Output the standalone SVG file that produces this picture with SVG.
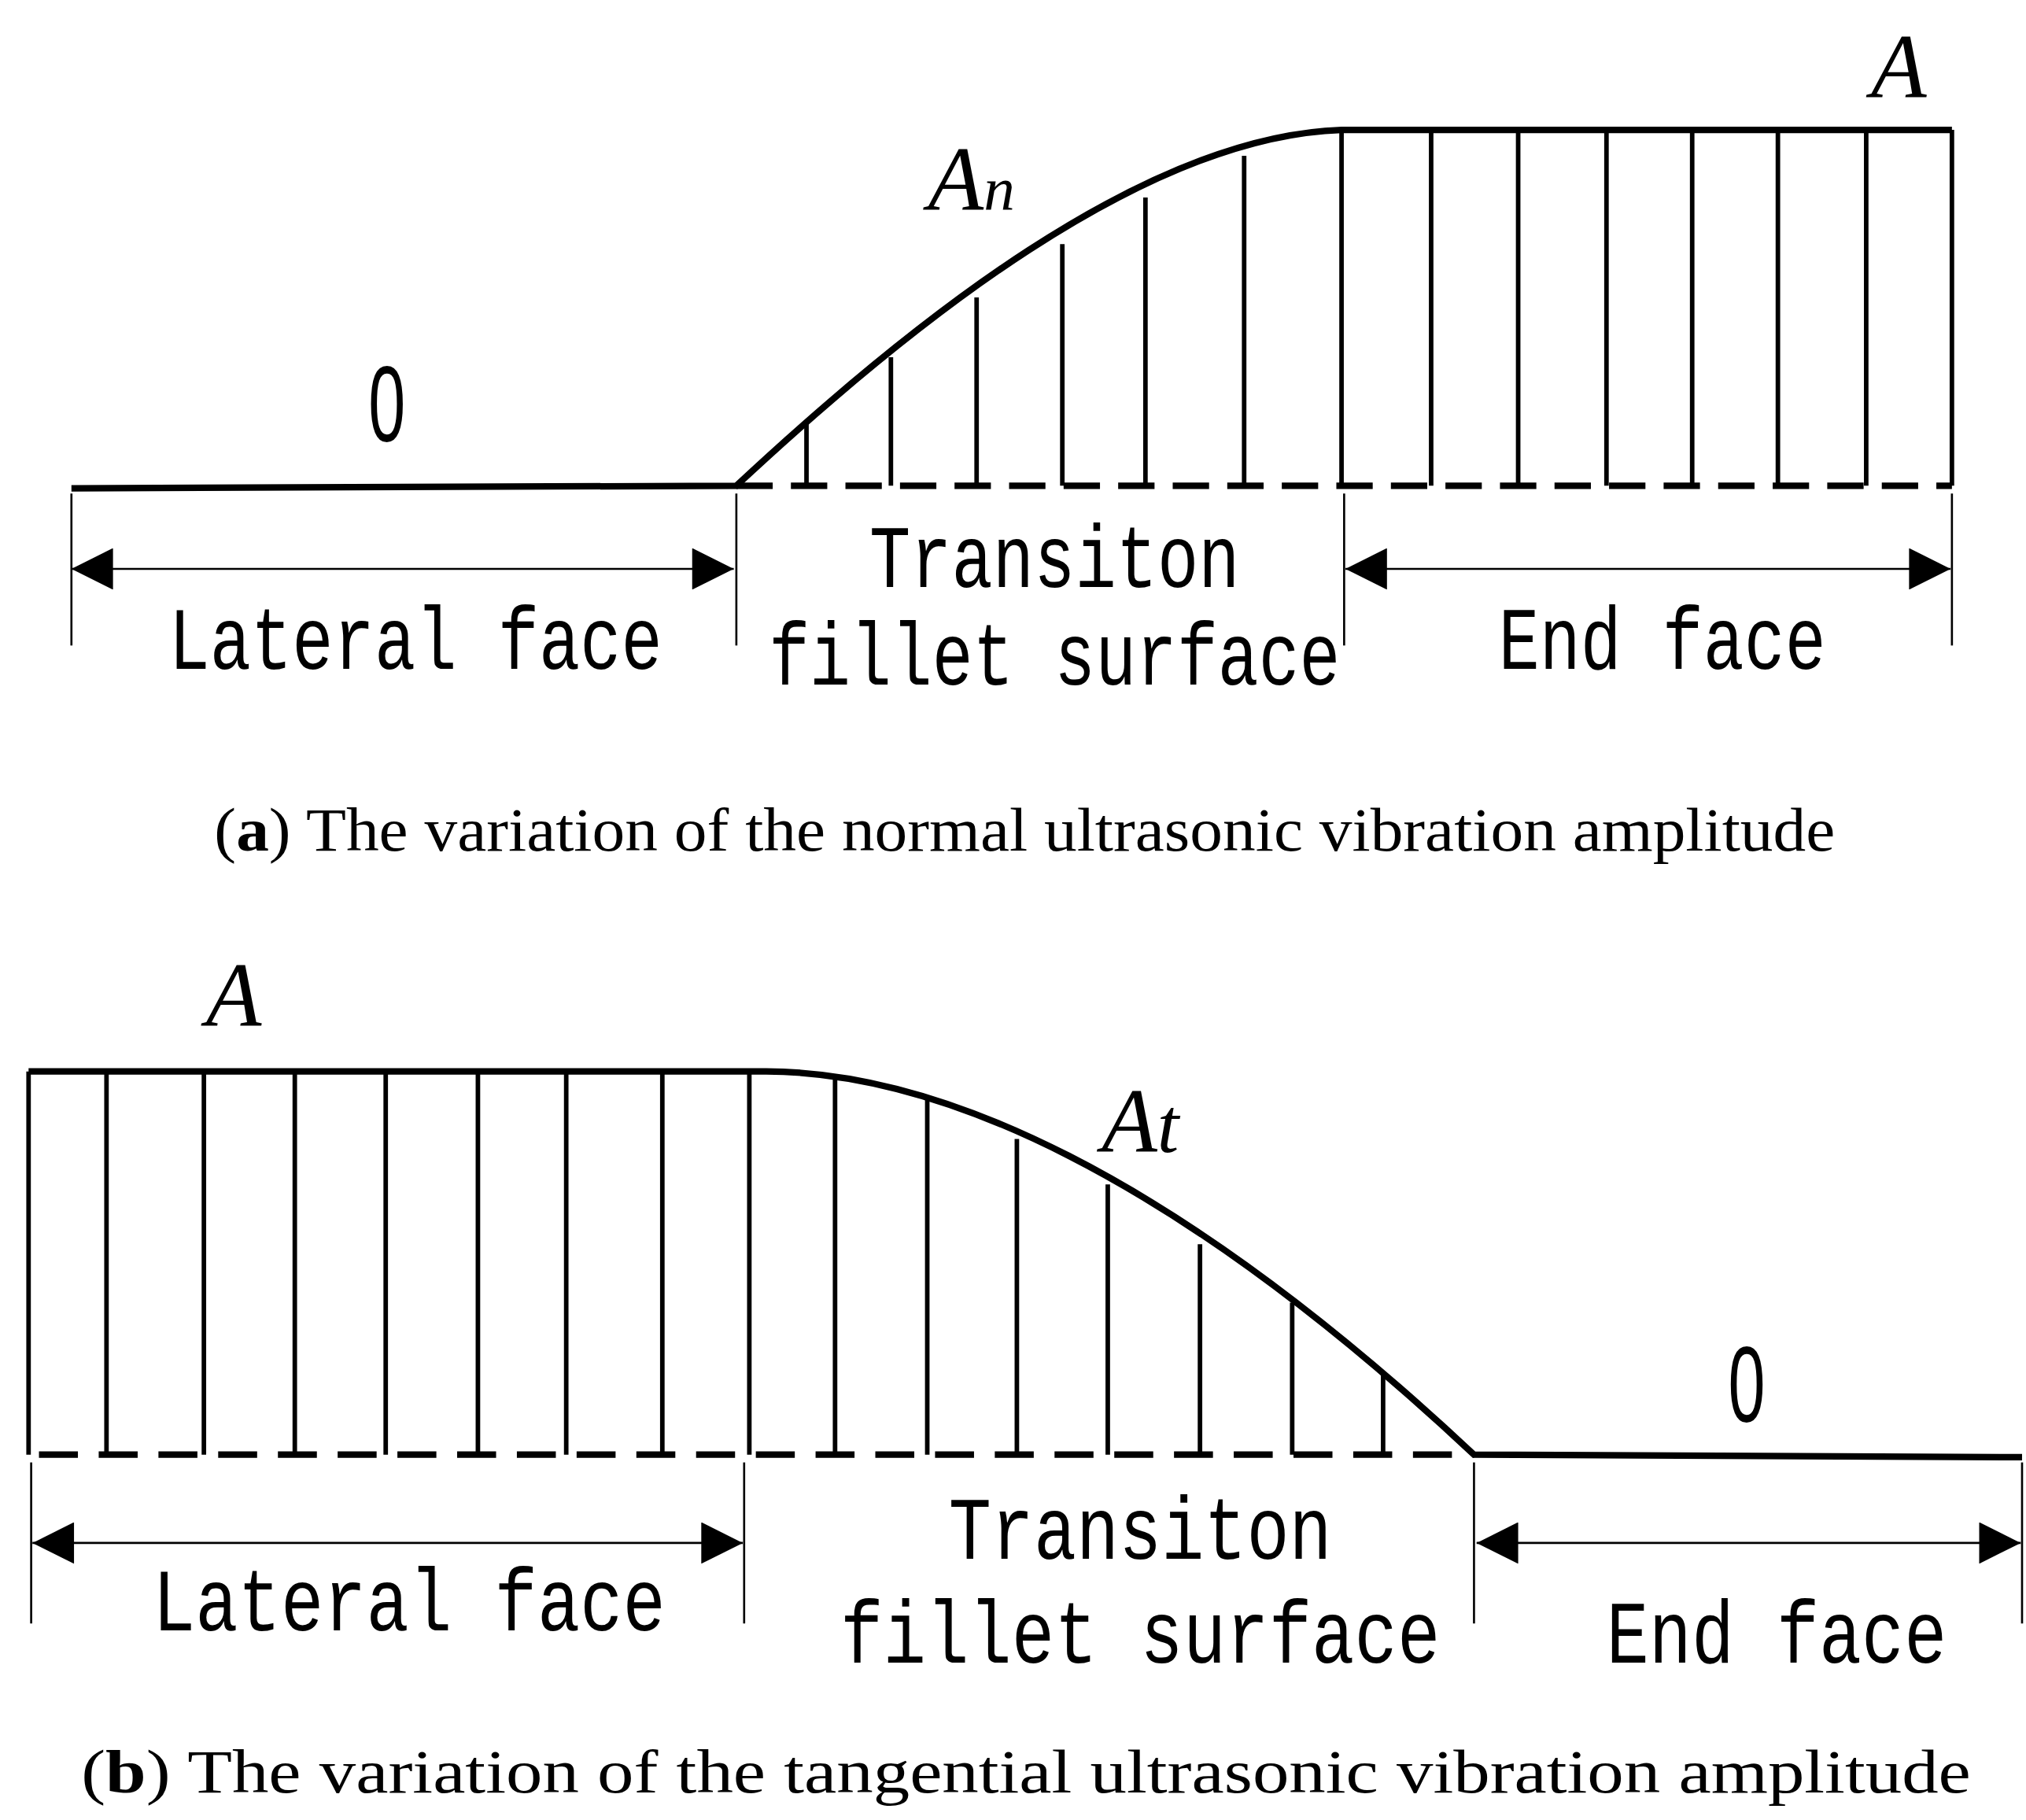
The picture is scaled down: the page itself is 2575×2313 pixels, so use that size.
<svg xmlns="http://www.w3.org/2000/svg" width="2575" height="2313" viewBox="0 0 2575 2313">
<style>
.thick{fill:none;stroke:#000;stroke-width:5}
.vert{stroke:#000;stroke-width:3.5}
.dim{stroke:#000;stroke-width:1.6;fill:none}
.dash{stroke:#000;stroke-width:5;stroke-dasharray:28 14}
.lbl{font-family:"Liberation Mono",monospace;font-size:68px;fill:#000}
.sym{font-family:"Liberation Serif",serif;font-style:italic;font-size:70px;fill:#000}
.zero{font-family:"Liberation Sans",sans-serif;font-size:64px;fill:#000}
.cap{font-family:"Liberation Serif",serif;font-size:47px;fill:#000}
</style>
<defs>
<marker id="ah" viewBox="0 0 10 10" refX="10" refY="5" markerWidth="46" markerHeight="32" markerUnits="userSpaceOnUse" orient="auto-start-reverse"><path d="M0,0L10,5L0,10Z" fill="#000"/></marker>
</defs>
<rect width="2575" height="2313" fill="#fff"/>
<g transform="scale(1.6506)">
<g id="panel-a">
<path class="thick" d="M55,376 L567,374 C700,250 880,105 1033,100 L1503,100"/>
<line class="dash" x1="567" y1="374" x2="1503" y2="374"/>
<g class="vert">
<line x1="621" y1="326" x2="621" y2="374"/><line x1="686" y1="275" x2="686" y2="374"/><line x1="752" y1="229" x2="752" y2="374"/><line x1="818" y1="188" x2="818" y2="374"/><line x1="882" y1="152" x2="882" y2="374"/><line x1="958" y1="120" x2="958" y2="374"/><line x1="1033" y1="100" x2="1033" y2="374"/><line x1="1102" y1="100" x2="1102" y2="374"/><line x1="1169" y1="100" x2="1169" y2="374"/><line x1="1237" y1="100" x2="1237" y2="374"/><line x1="1303" y1="100" x2="1303" y2="374"/><line x1="1369" y1="100" x2="1369" y2="374"/><line x1="1437" y1="100" x2="1437" y2="374"/><line x1="1503" y1="100" x2="1503" y2="374"/>
</g>
<g id="connectors-a" class="dim">
<line x1="55" y1="380" x2="55" y2="497"/><line x1="567" y1="380" x2="567" y2="497"/><line x1="1035" y1="380" x2="1035" y2="497"/><line x1="1503" y1="380" x2="1503" y2="497"/>
<line x1="55" y1="438" x2="565" y2="438" marker-start="url(#ah)" marker-end="url(#ah)"/>
<line x1="1036" y1="438" x2="1502" y2="438" marker-start="url(#ah)" marker-end="url(#ah)"/>
</g>
<text class="zero" x="298" y="340" text-anchor="middle" transform="translate(298 340) scale(0.8 1.3) translate(-298 -340)">0</text>
<text class="sym" x="1462" y="75" text-anchor="middle">A</text>
<text class="sym" x="748" y="162" text-anchor="middle">A<tspan font-size="48">n</tspan></text>
<text class="lbl" x="320" y="515" text-anchor="middle" textLength="380" lengthAdjust="spacingAndGlyphs">Lateral face</text>
<text class="lbl" x="812" y="452" text-anchor="middle" textLength="285" lengthAdjust="spacingAndGlyphs">Transiton</text>
<text class="lbl" x="812" y="527" text-anchor="middle" textLength="440" lengthAdjust="spacingAndGlyphs">fillet surface</text>
<text class="lbl" x="1280" y="515" text-anchor="middle" textLength="252" lengthAdjust="spacingAndGlyphs">End face</text>
<text class="cap" x="789" y="655" text-anchor="middle" textLength="1248" lengthAdjust="spacingAndGlyphs">(<tspan font-weight="bold">a</tspan>) The variation of the normal ultrasonic vibration amplitude</text>
</g>
<g id="panel-b">
<path class="thick" d="M22,825 L590,825 C720,825 900,900 1135,1120 L1557,1122"/>
<line class="dash" x1="22" y1="1120" x2="1135" y2="1120" style="stroke-dasharray:30 16;stroke-dashoffset:-8"/>
<g class="vert">
<line x1="22" y1="825" x2="22" y2="1120"/><line x1="82" y1="825" x2="82" y2="1120"/><line x1="157" y1="825" x2="157" y2="1120"/><line x1="227" y1="825" x2="227" y2="1120"/><line x1="297" y1="825" x2="297" y2="1120"/><line x1="368" y1="825" x2="368" y2="1120"/><line x1="436" y1="825" x2="436" y2="1120"/><line x1="510" y1="825" x2="510" y2="1120"/><line x1="577" y1="825" x2="577" y2="1120"/><line x1="643" y1="829" x2="643" y2="1120"/><line x1="714" y1="846" x2="714" y2="1120"/><line x1="783" y1="877" x2="783" y2="1120"/><line x1="853" y1="912" x2="853" y2="1120"/><line x1="924" y1="958" x2="924" y2="1120"/><line x1="995" y1="1003" x2="995" y2="1120"/><line x1="1065" y1="1058" x2="1065" y2="1120"/>
</g>
<g id="connectors-b" class="dim">
<line x1="24" y1="1126" x2="24" y2="1250"/><line x1="573" y1="1126" x2="573" y2="1250"/><line x1="1135" y1="1126" x2="1135" y2="1250"/><line x1="1557" y1="1126" x2="1557" y2="1250"/>
<line x1="25" y1="1188" x2="572" y2="1188" marker-start="url(#ah)" marker-end="url(#ah)"/>
<line x1="1137" y1="1188" x2="1556" y2="1188" marker-start="url(#ah)" marker-end="url(#ah)"/>
</g>
<text class="sym" x="180" y="790" text-anchor="middle">A</text>
<text class="sym" x="878" y="887" text-anchor="middle">A<tspan font-size="60">t</tspan></text>
<text class="zero" x="1345" y="1095" text-anchor="middle" transform="translate(1345 1095) scale(0.8 1.3) translate(-1345 -1095)">0</text>
<text class="lbl" x="315" y="1255" text-anchor="middle" textLength="395" lengthAdjust="spacingAndGlyphs">Lateral face</text>
<text class="lbl" x="878" y="1200" text-anchor="middle" textLength="295" lengthAdjust="spacingAndGlyphs">Transiton</text>
<text class="lbl" x="878" y="1280" text-anchor="middle" textLength="462" lengthAdjust="spacingAndGlyphs">fillet surface</text>
<text class="lbl" x="1368" y="1280" text-anchor="middle" textLength="262" lengthAdjust="spacingAndGlyphs">End face</text>
<text class="cap" x="790" y="1380" text-anchor="middle" textLength="1455" lengthAdjust="spacingAndGlyphs">(<tspan font-weight="bold">b</tspan>) The variation of the tangential ultrasonic vibration amplitude</text>
</g>
</g>
</svg>
